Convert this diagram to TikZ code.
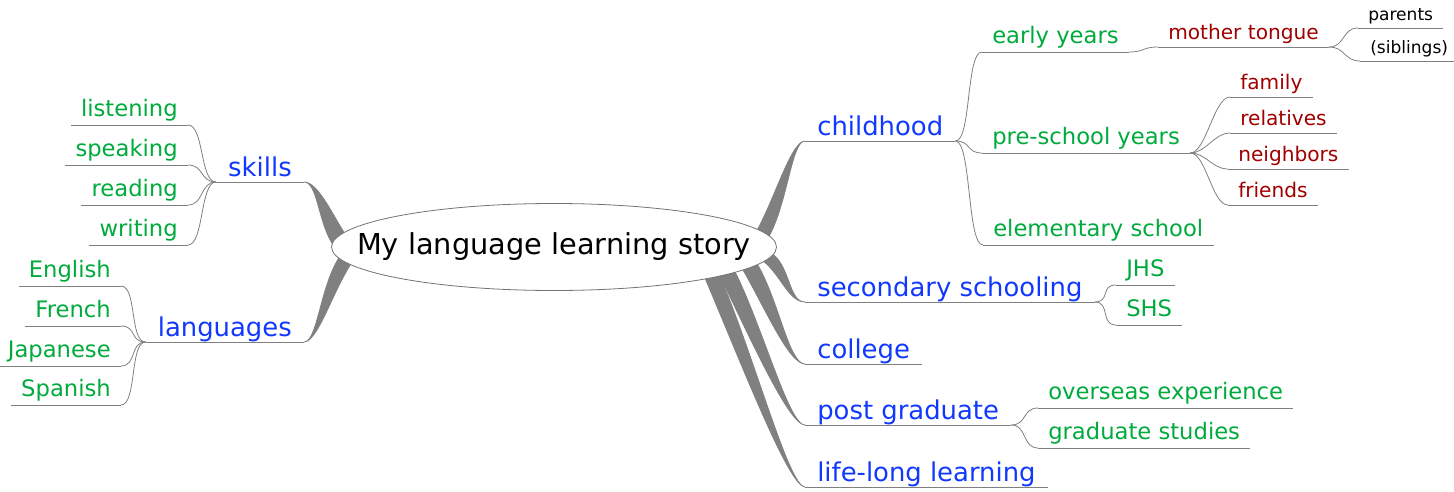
\documentclass[tikz,border=0pt]{standalone}
\usepackage{fontspec}
\setmainfont{DejaVu Sans}
\usepackage{tikz}
\usetikzlibrary{shapes.geometric}
\pgfdeclarelayer{bg}
\pgfsetlayers{bg,main}

\definecolor{topicblue}{RGB}{16,56,255}
\definecolor{leafgreen}{RGB}{0,170,60}
\definecolor{kinred}{RGB}{160,0,0}

\tikzset{
  root/.style={ellipse, draw=gray!90!black, fill=white, line width=0.6pt,
    inner xsep=-40pt, inner ysep=0pt,
    minimum width=333.75pt, minimum height=65.25pt, font=\fontsize{21.6}{24}\selectfont},
  topic/.style={text=topicblue, font=\fontsize{19.4}{22}\selectfont, text depth=0pt,
    inner xsep=9pt, inner ysep=3.75pt},
  sub/.style={text=leafgreen, font=\fontsize{17}{20}\selectfont, text depth=0pt,
    inner xsep=7.5pt, inner ysep=6pt},
  kin/.style={text=kinred, font=\fontsize{15.1}{18}\selectfont, text depth=0pt,
    inner xsep=7.5pt, inner ysep=5.6pt},
  who/.style={text=black, font=\fontsize{12.8}{15}\selectfont, text depth=0pt,
    inner xsep=7.5pt, inner ysep=5.2pt},
  band/.style={fill=gray, draw=gray, line width=0.6pt},
  twig/.style={draw=gray, line width=0.6pt},
  right twig/.style={out=0, in=180, distance=12pt},
  left twig/.style={out=180, in=0, distance=12pt}
}

\begin{document}
\begin{tikzpicture}[x=0.75pt, y=0.75pt]
  \useasboundingbox (0,0) rectangle (1454,-492);

  \node[root] (story) at (554,-247) {My language learning story};

  % left side
  \node[topic, anchor=south east] (skills) at (304,-182) {skills};
  \node[topic, anchor=south east] (languages) at (304,-342) {languages};
  \node[sub, anchor=south east] (listening) at (188,-125) {listening};
  \node[sub, anchor=south east] (speaking) at (188,-165) {speaking};
  \node[sub, anchor=south east] (reading) at (188,-205) {reading};
  \node[sub, anchor=south east] (writing) at (188,-245) {writing};
  \node[sub, anchor=south east] (english) at (121,-286) {English};
  \node[sub, anchor=south east] (french) at (121,-326) {French};
  \node[sub, anchor=south east] (japanese) at (121,-366) {Japanese};
  \node[sub, anchor=south east] (spanish) at (121,-405) {Spanish};

  % right side
  \node[topic, anchor=south west] (childhood) at (805,-141) {childhood};
  \node[topic, anchor=south west] (secondary) at (805,-302) {secondary schooling};
  \node[topic, anchor=south west] (college) at (805,-364) {college};
  \node[topic, anchor=south west] (postgrad) at (805,-425) {post graduate};
  \node[topic, anchor=south west] (lifelong) at (805,-487) {life-long learning};

  \node[sub, anchor=south west] (early) at (982,-52) {early years};
  \node[sub, anchor=south west] (preschool) at (982,-153) {pre-school years};
  \node[sub, anchor=south west] (elementary) at (983,-245) {elementary school};
  \node[sub, anchor=south west] (jhs) at (1116,-285) {JHS};
  \node[sub, anchor=south west] (shs) at (1116,-325) {SHS};
  \node[sub, anchor=south west] (overseas) at (1038,-408) {overseas experience};
  \node[sub, anchor=south west] (graduate) at (1038,-448) {graduate studies};

  \node[kin, anchor=south west] (mother) at (1158,-47) {mother tongue};
  \node[kin, anchor=south west] (family) at (1230,-97) {family};
  \node[kin, anchor=south west] (relatives) at (1230,-133) {relatives};
  \node[kin, anchor=south west] (neighbors) at (1228,-169) {neighbors};
  \node[kin, anchor=south west] (friends) at (1228,-205) {friends};

  \node[who, anchor=south west] (parents) at (1358,-28) {parents};
  \node[who, anchor=south west] (siblings) at (1360,-61) {(siblings)};

  % underlines
  \foreach \n in {skills, languages, listening, speaking, reading, writing,
    english, french, japanese, spanish, childhood, secondary, college, postgrad,
    lifelong, early, preschool, elementary, jhs, shs, overseas, graduate,
    mother, family, relatives, neighbors, friends, parents, siblings}
    \draw[twig] (\n.south west) -- (\n.south east);

  % thick branches from the centre
  \begin{pgfonlayer}{bg}
    \fill[band] (story.176) to[out=122, in=0, in distance=10pt] (skills.south east)
      to[out=0, in=122, out distance=10pt] (story.179) -- cycle;
    \fill[band] (story.183.5) to[out=238, in=0, in distance=10pt] (languages.south east)
      to[out=0, in=238, out distance=10pt] (story.185.3) -- cycle;
    \fill[band] (story.5.2) to[out=62, in=180, in distance=10pt] (childhood.south west)
      to[out=180, in=62, out distance=10pt] (story.3) -- cycle;
    \fill[band] (story.-2) to[out=-40, in=180, in distance=12pt] (secondary.south west)
      to[out=180, in=-40, out distance=12pt] (story.-4) -- cycle;
    \fill[band] (story.-5) to[out=-60, in=180, in distance=12pt] (college.south west)
      to[out=180, in=-60, out distance=12pt] (story.-7) -- cycle;
    \fill[band] (story.-8) to[out=-64, in=180, in distance=12pt] (postgrad.south west)
      to[out=180, in=-64, out distance=12pt] (story.-10) -- cycle;
    \fill[band] (story.-10.7) to[out=-67, in=180, in distance=12pt] (lifelong.south west)
      to[out=180, in=-67, out distance=12pt] (story.-12.7) -- cycle;
  \end{pgfonlayer}

  % thin connectors
  \foreach \c in {listening, speaking, reading, writing}
    \draw[twig] (skills.south west) to[left twig] (\c.south east);
  \foreach \c in {english, french, japanese, spanish}
    \draw[twig] (languages.south west) to[left twig] (\c.south east);
  \foreach \c in {early, preschool, elementary}
    \draw[twig] (childhood.south east) to[right twig] (\c.south west);
  \draw[twig] (early.south east) to[right twig] (mother.south west);
  \foreach \c in {parents, siblings}
    \draw[twig] (mother.south east) to[right twig] (\c.south west);
  \foreach \c in {family, relatives, neighbors, friends}
    \draw[twig] (preschool.south east) to[right twig] (\c.south west);
  \foreach \c in {jhs, shs}
    \draw[twig] (secondary.south east) to[right twig] (\c.south west);
  \foreach \c in {overseas, graduate}
    \draw[twig] (postgrad.south east) to[right twig] (\c.south west);
\end{tikzpicture}
\end{document}
